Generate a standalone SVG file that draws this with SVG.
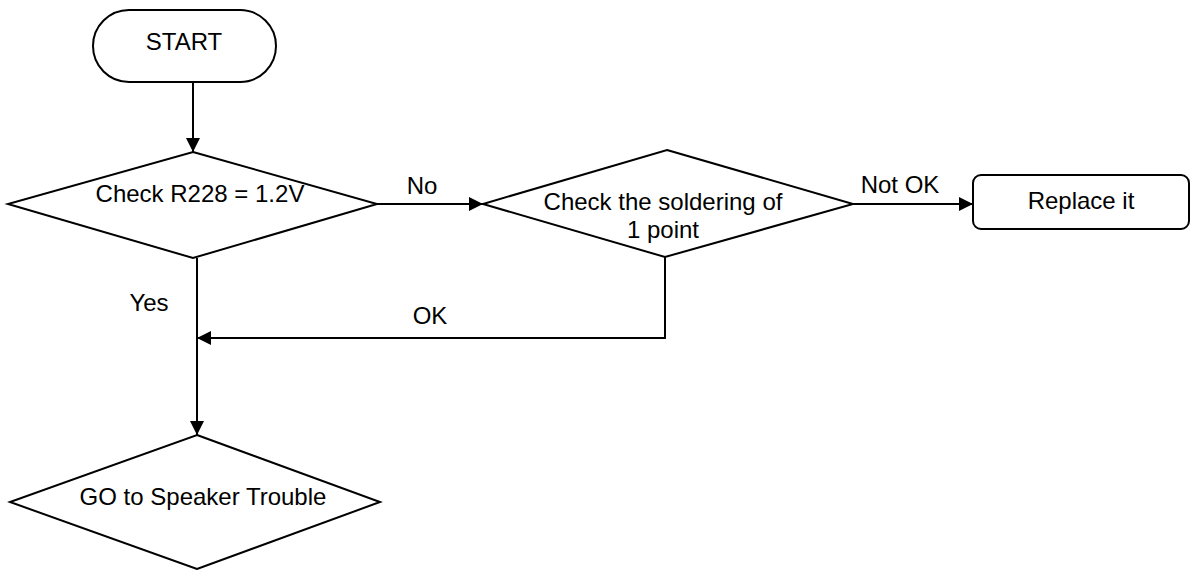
<svg xmlns="http://www.w3.org/2000/svg" width="1190" height="570" viewBox="0 0 1190 570">
<defs>
<style>
.shape{fill:#fff;stroke:#000;stroke-width:2}
.line{fill:none;stroke:#000;stroke-width:2}
text{font-family:"Liberation Sans",Arial,sans-serif;font-size:24px;fill:#000}
.c{text-anchor:middle}
</style>
<marker id="arr" viewBox="0 0 14 14" refX="14" refY="7" markerWidth="14" markerHeight="14" markerUnits="userSpaceOnUse" orient="auto">
<path d="M0,0 L14,7 L0,14 Z" fill="#000"/>
</marker>
</defs>
<g id="connectors">
<line class="line" x1="193" y1="82" x2="193" y2="152" marker-end="url(#arr)"/>
<line class="line" x1="377" y1="204" x2="483" y2="204" marker-end="url(#arr)"/>
<line class="line" x1="853" y1="204" x2="973" y2="204" marker-end="url(#arr)"/>
<line class="line" x1="197" y1="258" x2="197" y2="435" marker-end="url(#arr)"/>
<polyline class="line" points="665,257 665,338 197,338" marker-end="url(#arr)"/>
<text x="422" y="194" class="c">No</text>
<text x="900" y="193" class="c">Not OK</text>
<text x="149" y="311" class="c">Yes</text>
<text x="430" y="324" class="c">OK</text>
</g>
<g id="start">
<rect class="shape" x="93" y="10" width="183" height="72" rx="36" ry="36"/>
<text x="184" y="50" class="c">START</text>
</g>
<g id="check-r228">
<polygon class="shape" points="193,152 377,204 193,258 8,204"/>
<text x="200" y="202" class="c">Check R228 = 1.2V</text>
</g>
<g id="check-soldering">
<polygon class="shape" points="667,150 853,204 665,257 483,204"/>
<text x="663" y="210" class="c">Check the soldering of</text>
<text x="663" y="238" class="c">1 point</text>
</g>
<g id="replace">
<rect class="shape" x="973" y="175" width="216" height="54" rx="8" ry="8"/>
<text x="1081" y="209" class="c">Replace it</text>
</g>
<g id="speaker">
<polygon class="shape" points="197,435 380,502 197,569 10,502"/>
<text x="203" y="505" class="c">GO to Speaker Trouble</text>
</g>
</svg>
